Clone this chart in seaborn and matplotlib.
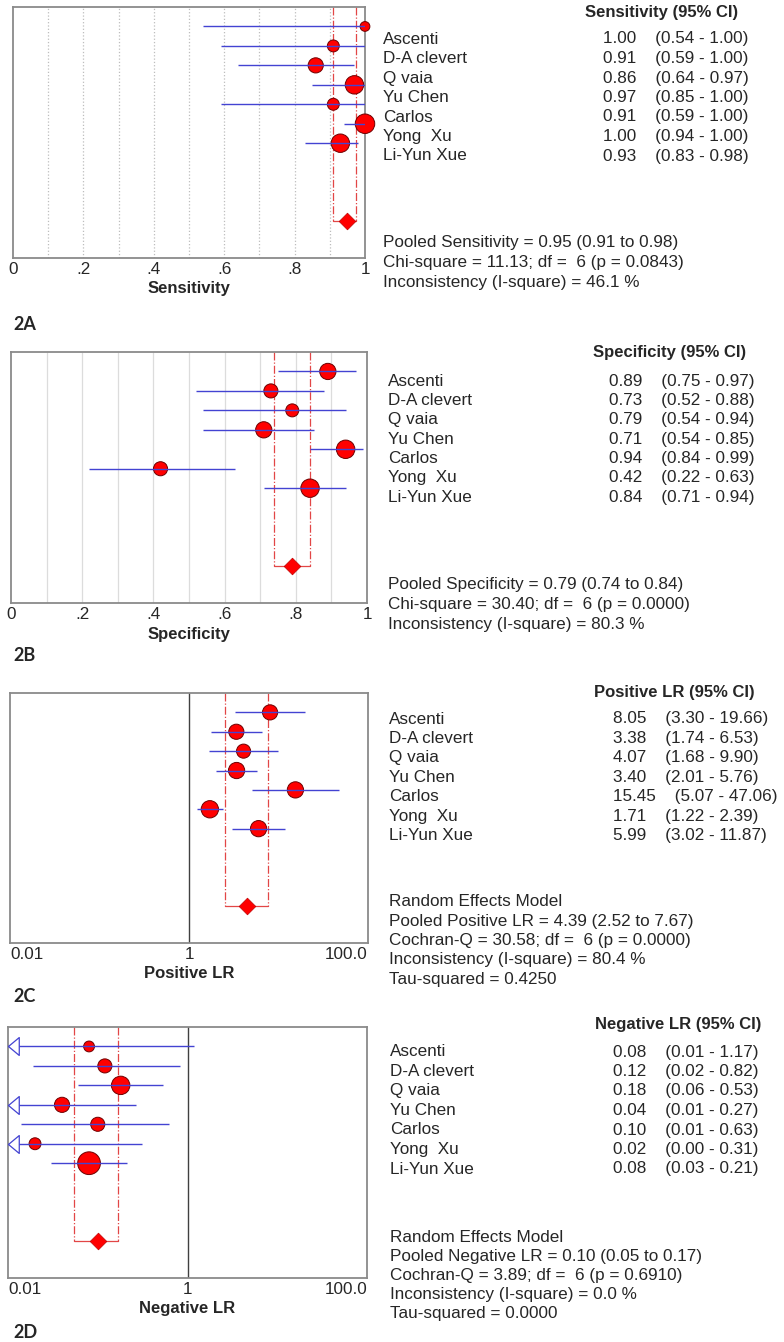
import numpy as np
import pandas as pd
import matplotlib
matplotlib.use("Agg")
from matplotlib import pyplot as plt
from matplotlib.path import Path
from matplotlib.ticker import NullLocator
import seaborn as sns

studies = ["Ascenti", "D-A clevert", "Q vaia", "Yu Chen", "Carlos", "Yong  Xu", "Li-Yun Xue"]

# 2A sensitivity
sens_est = [1.00, 0.91, 0.86, 0.97, 0.91, 1.00, 0.93]
sens_lo = [0.54, 0.59, 0.64, 0.85, 0.59, 0.94, 0.83]
sens_hi = [1.00, 1.00, 0.97, 1.00, 1.00, 1.00, 0.98]
sens_w = [9, 11, 14, 17, 11, 18, 17]
sens_pool = [0.95, 0.91, 0.975]
sens_stats = ["Pooled Sensitivity = 0.95 (0.91 to 0.98)",
              "Chi-square = 11.13; df =  6 (p = 0.0843)",
              "Inconsistency (I-square) = 46.1 %"]

# 2B specificity
spec_est = [0.89, 0.73, 0.79, 0.71, 0.94, 0.42, 0.84]
spec_lo = [0.75, 0.52, 0.54, 0.54, 0.84, 0.22, 0.71]
spec_hi = [0.97, 0.88, 0.94, 0.85, 0.99, 0.63, 0.94]
spec_w = [15, 13, 12, 15, 17, 13, 17]
spec_pool = [0.79, 0.74, 0.84]
spec_stats = ["Pooled Specificity = 0.79 (0.74 to 0.84)",
              "Chi-square = 30.40; df =  6 (p = 0.0000)",
              "Inconsistency (I-square) = 80.3 %"]

# 2C positive LR
plr_est = [8.05, 3.38, 4.07, 3.40, 15.45, 1.71, 5.99]
plr_lo = [3.30, 1.74, 1.68, 2.01, 5.07, 1.22, 3.02]
plr_hi = [19.66, 6.53, 9.90, 5.76, 47.06, 2.39, 11.87]
plr_w = [14, 14, 13, 15, 15, 16, 15]
plr_pool = [4.39, 2.52, 7.67]
plr_stats = ["Random Effects Model",
             "Pooled Positive LR = 4.39 (2.52 to 7.67)",
             "Cochran-Q = 30.58; df =  6 (p = 0.0000)",
             "Inconsistency (I-square) = 80.4 %",
             "Tau-squared = 0.4250"]

# 2D negative LR
nlr_est = [0.08, 0.12, 0.18, 0.04, 0.10, 0.02, 0.08]
nlr_lo = [0.006, 0.019, 0.06, 0.006, 0.014, 0.002, 0.03]
nlr_hi = [1.17, 0.82, 0.53, 0.27, 0.63, 0.31, 0.21]
nlr_w = [10, 13, 17, 14, 13, 11, 21]
nlr_pool = [0.10, 0.054, 0.167]
nlr_stats = ["Random Effects Model",
             "Pooled Negative LR = 0.10 (0.05 to 0.17)",
             "Cochran-Q = 3.89; df =  6 (p = 0.6910)",
             "Inconsistency (I-square) = 0.0 %",
             "Tau-squared = 0.0000"]

lin_ticks = [0, 0.2, 0.4, 0.6, 0.8, 1.0]
lin_labels = ["0", ".2", ".4", ".6", ".8", "1"]
log_ticks = [0.01, 1, 100]
log_labels = ["0.01", "1", "100.0"]

sns.set_style("white")
plt.rcParams["font.family"] = ["Liberation Sans", "DejaVu Sans"]

W, H = 784, 1342
fig = plt.figure(figsize=(W / 100, H / 100), dpi=100)

BLUE = "#4343d2"
RED = "#ff0000"
DASH = "#e24646"
rows = np.arange(len(studies))
pool_row = 10
ylims = (11.9, -1.0)
arrow = Path([(0, 0), (1.2, 1), (1.2, -1), (0, 0)], [1, 2, 2, 79])


def fx(x):
    return x / W


def fy(y):
    return 1 - y / H


def forest(box, est, lo, hi, w, pool, log, xlabel, lay):
    l, t, r, b = box
    ax = fig.add_axes([fx(l), fy(b), (r - l) / W, (b - t) / H])
    est, lo, hi = np.array(est), np.array(lo), np.array(hi)
    if log:
        ax.set_xscale("log")
        ticks, labels = log_ticks, log_labels
    else:
        ticks, labels = lin_ticks, lin_labels
    ax.set_xlim(ticks[0], ticks[-1])
    ax.set_ylim(*ylims)
    xmin = ticks[0]

    if log:
        ax.axvline(1, color="#404040", lw=1.0, zorder=1)
    else:
        grid_style = ":" if lay["grid"] == "dot" else "-"
        grid_col = "#bdbdbd" if lay["grid"] == "dot" else "#dcdcdc"
        ax.vlines(np.linspace(0.1, 0.9, 9), *ylims, color=grid_col, lw=0.9,
                  ls=grid_style, zorder=0)

    # pooled bracket
    ax.plot([pool[1], pool[1]], [ylims[1], pool_row], ls="-.", color=DASH, lw=0.9, zorder=2)
    ax.plot([pool[2], pool[2]], [ylims[1], pool_row], ls="-.", color=DASH, lw=0.9, zorder=2)
    ax.plot([pool[1], pool[2]], [pool_row, pool_row], color=DASH, lw=0.9, zorder=2)

    area = (np.array(w, dtype=float) * 0.78) ** 2
    df = pd.DataFrame({"est": est, "row": rows, "area": area})
    sns.scatterplot(data=df, x="est", y="row", size="area",
                    sizes=(area.min(), area.max()), size_norm=(area.min(), area.max()),
                    color=RED, edgecolor="#6e0000", linewidth=0.7, legend=False,
                    ax=ax, clip_on=False, zorder=3)
    sns.scatterplot(x=[pool[0]], y=[pool_row], marker="D", s=72, color=RED,
                    edgecolor="#c00000", linewidth=0.5, ax=ax, zorder=3, legend=False)

    lo_c = np.maximum(lo, xmin)
    ax.hlines(rows, lo_c, hi, color=BLUE, lw=1.0, zorder=4)
    cut = lo < xmin
    if cut.any():
        ax.plot(np.full(cut.sum(), xmin), rows[cut], ls="none", marker=arrow, ms=15.5,
                mfc="white", mec=BLUE, mew=0.9, clip_on=False, zorder=5)

    ax.set_xticks(ticks, labels)
    ax.xaxis.set_minor_locator(NullLocator())
    ax.set_yticks([])
    ax.tick_params(axis="x", length=0, pad=3, labelsize=12.3)
    if log:
        tl = ax.get_xticklabels()
        tl[0].set_ha("left")
        tl[-1].set_ha("right")
    ax.set_xlabel(xlabel, fontsize=12, fontweight="bold")
    ax.set_ylabel("")
    ax.xaxis.set_label_coords(0.5, -(lay["xlab_y"] - b) / (b - t))
    ax.xaxis.label.set_va("center")
    for s in ax.spines.values():
        s.set_color("#8a8a8a")
        s.set_linewidth(1.3)
    return ax


def side_text(head, est, lo, hi, stats, lay):
    fig.text(fx(lay["head_x"]), fy(lay["head_y"]), head, fontsize=12,
             fontweight="bold", va="center", ha="left")
    for i, name in enumerate(studies):
        y = fy(lay["row_y0"] + i * lay["row_dy"])
        fig.text(fx(lay["name_x"]), y, name, fontsize=12.3, va="center")
        fig.text(fx(lay["val_x"]), y, f"{est[i]:.2f}    ({lo[i]:.2f} - {hi[i]:.2f})",
                 fontsize=12.3, va="center")
    for j, line in enumerate(stats):
        fig.text(fx(lay["name_x"]), fy(lay["st_y0"] + j * lay["st_dy"]), line,
                 fontsize=12.3, va="center")
    fig.text(fx(13), fy(lay["tag_y"]), lay["tag"], fontsize=13, fontweight="bold",
             family=["Lato", "DejaVu Sans"], va="center")


panels = [
    dict(box=(13, 7, 365, 258), est=sens_est, lo=sens_lo, hi=sens_hi, w=sens_w, pool=sens_pool,
         log=False, xlabel="Sensitivity", head="Sensitivity (95% CI)", stats=sens_stats,
         lay=dict(grid="dot", xlab_y=289, head_x=585, head_y=12, name_x=383, val_x=603,
                  row_y0=39, row_dy=19.5, st_y0=243, st_dy=20, tag="2A", tag_y=324)),
    dict(box=(11, 352, 367, 603), est=spec_est, lo=spec_lo, hi=spec_hi, w=spec_w, pool=spec_pool,
         log=False, xlabel="Specificity", head="Specificity (95% CI)", stats=spec_stats,
         lay=dict(grid="solid", xlab_y=634, head_x=593, head_y=352, name_x=388, val_x=609,
                  row_y0=381, row_dy=19.4, st_y0=585, st_dy=20, tag="2B", tag_y=656)),
    dict(box=(10, 693, 368, 943), est=plr_est, lo=plr_lo, hi=plr_hi, w=plr_w, pool=plr_pool,
         log=True, xlabel="Positive LR", head="Positive LR (95% CI)", stats=plr_stats,
         lay=dict(grid=None, xlab_y=973, head_x=594, head_y=692, name_x=389, val_x=613,
                  row_y0=719, row_dy=19.4, st_y0=902, st_dy=19.3, tag="2C", tag_y=996)),
    dict(box=(8, 1027, 367, 1278), est=nlr_est, lo=nlr_lo, hi=nlr_hi, w=nlr_w, pool=nlr_pool,
         log=True, xlabel="Negative LR", head="Negative LR (95% CI)", stats=nlr_stats,
         lay=dict(grid=None, xlab_y=1308, head_x=595, head_y=1024, name_x=390, val_x=613,
                  row_y0=1052, row_dy=19.5, st_y0=1237, st_dy=19.1, tag="2D", tag_y=1332)),
]

for p in panels:
    forest(p["box"], p["est"], p["lo"], p["hi"], p["w"], p["pool"], p["log"], p["xlabel"], p["lay"])
    side_text(p["head"], p["est"], p["lo"], p["hi"], p["stats"], p["lay"])

fig.savefig("out.png", dpi=100, facecolor="white")
